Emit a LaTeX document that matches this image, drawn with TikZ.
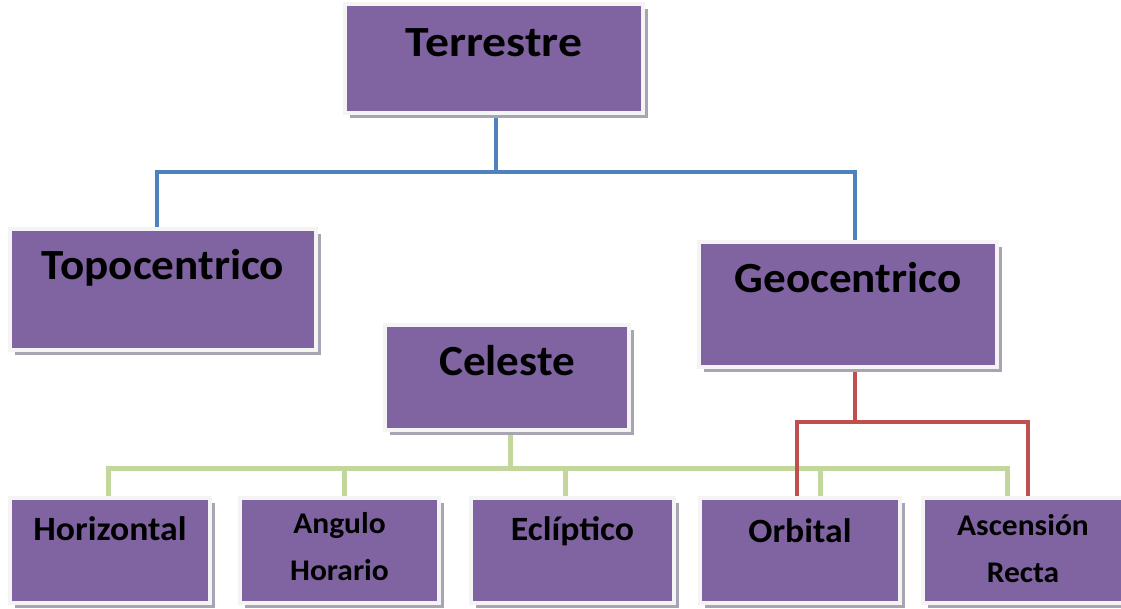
\documentclass[tikz,border=0pt]{standalone}
\usepackage{fontspec}
\setmainfont{Carlito}[FakeStretch=1.05]
\newfontfamily\widefont{Carlito}[FakeStretch=1.11]
\usetikzlibrary{shadows}
\pgfdeclarelayer{bg}
\pgfsetlayers{bg,main}
\definecolor{boxpurple}{HTML}{8064A2}
\definecolor{boxborder}{HTML}{F4F4F4}
\definecolor{boxshadow}{HTML}{A8A4B2}
\definecolor{lnblue}{HTML}{4F81BD}
\definecolor{lngreen}{HTML}{C3D69B}
\definecolor{lnred}{HTML}{C0504D}
\tikzset{
  box/.style={rectangle, fill=boxpurple, draw=boxborder, line width=4pt,
    inner xsep=0pt, inner ysep=2pt, minimum height=0pt, anchor=base,
    text=black, font=\bfseries,
    drop shadow={shadow xshift=5pt, shadow yshift=-5pt, fill=boxshadow, opacity=1}},
  bigtxt/.style={font=\fontsize{43}{50}\selectfont\bfseries},
  widetxt/.style={font=\widefont\fontsize{43}{50}\selectfont\bfseries},
  smalltxt/.style={font=\fontsize{34}{40}\selectfont\bfseries},
  twotxt/.style={font=\fontsize{30}{47}\selectfont\bfseries},
  blueln/.style={draw=lnblue, line width=4pt},
  greenln/.style={draw=lngreen, line width=5pt},
  redln/.style={draw=lnred, line width=4.5pt},
}
\begin{document}
\begin{tikzpicture}[x=1pt, y=-1pt]
\useasboundingbox (0,0) rectangle (1121,609);
\clip (0,0) rectangle (1121,609);
% boxes: purple rect x1..x2, y1..y2, baseline
\node[box, widetxt, minimum width=298pt, text height=51pt, text depth=54pt] (T) at (494,57) {Terrestre};
\node[box, bigtxt, minimum width=306pt, text height=49pt, text depth=68pt] (Topo) at (163,280) {Topocentrico};
\node[box, bigtxt, minimum width=298pt, text height=49pt, text depth=72pt] (Geo) at (848,293) {Geocentrico};
\node[box, bigtxt, minimum width=244pt, text height=48pt, text depth=53pt] (Cel) at (507,375) {Celeste};
\node[box, smalltxt, minimum width=200pt, text height=40pt, text depth=61pt] (Hor) at (110,540) {Horizontal};
\node[box, twotxt, minimum width=199pt, text height=33pt, text depth=68pt] (Ang) at (339.5,533)
  {\begin{tabular}[t]{@{}c@{}}Angulo\\Horario\end{tabular}};
\node[box, smalltxt, minimum width=203pt, text height=40pt, text depth=61pt] (Ecl) at (572.5,540) {Eclíptico};
\node[box, smalltxt, minimum width=200pt, text height=42pt, text depth=59pt] (Orb) at (800,542) {Orbital};
\node[box, twotxt, minimum width=200pt, text height=35pt, text depth=66pt] (Asc) at (1023,535)
  {\begin{tabular}[t]{@{}c@{}}Ascensión\\Recta\end{tabular}};
% connectors
\coordinate (busT) at (496,172);
\coordinate (busC) at (510,468);
\coordinate (busG) at (855,422);
\begin{pgfonlayer}{bg}
\draw[blueln] ([xshift=2pt]T.south) -- ([xshift=2pt]T.south |- busT);
\draw[blueln] ([xshift=-6pt]Topo.north) |- (busT) -| ([xshift=7pt]Geo.north);
\draw[greenln] ([xshift=3pt]Cel.south) -- ([xshift=3pt]Cel.south |- busC);
\draw[greenln] ([xshift=-2pt]Hor.north) |- (busC) -| ([xshift=-16pt]Asc.north);
\draw[greenln] ([xshift=4.5pt]Ang.north) -- ([xshift=4.5pt]Ang.north |- busC);
\draw[greenln] ([xshift=-7.5pt]Ecl.north) -- ([xshift=-7.5pt]Ecl.north |- busC);
\draw[greenln] ([xshift=20pt]Orb.north) -- ([xshift=20pt]Orb.north |- busC);
\draw[redln] ([xshift=7pt]Geo.south) -- ([xshift=7pt]Geo.south |- busG);
\draw[redln] ([xshift=-3pt]Orb.north) |- (busG) -| ([xshift=5pt]Asc.north);
\end{pgfonlayer}
\end{tikzpicture}
\end{document}
